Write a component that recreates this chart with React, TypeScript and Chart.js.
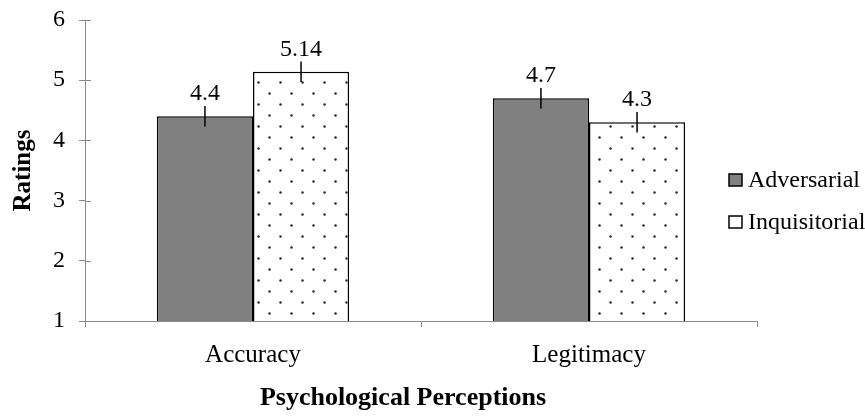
import React, { useEffect, useRef } from "react";
import { Chart, registerables } from "chart.js";

Chart.register(...registerables);

const categories = ["Accuracy", "Legitimacy"];
const seriesNames = ["Adversarial", "Inquisitorial"];
const adversarialValues = [4.4, 4.7];
const inquisitorialValues = [5.14, 4.3];
const adversarialErrors = [0.17, 0.17];
const inquisitorialErrors = [0.17, 0.17];
const valueLabels = [["4.4", "4.7"], ["5.14", "4.3"]];
const yMin = 1;
const yMax = 6;
const yStep = 1;
const xAxisTitle = "Psychological Perceptions";
const yAxisTitle = "Ratings";

const FONT = "'Liberation Serif', 'Times New Roman', serif";
const AXIS_GRAY = "#8a8a8a";

function makeDotPattern(ctx: CanvasRenderingContext2D): CanvasPattern | string {
  const c = document.createElement("canvas");
  c.width = 22;
  c.height = 22;
  const g = c.getContext("2d");
  if (!g) return "#ffffff";
  g.fillStyle = "#ffffff";
  g.fillRect(0, 0, 22, 22);
  g.fillStyle = "#2a2a2a";
  const dots = [
    [5.5, 5.5],
    [16.5, 16.5],
  ];
  for (const [x, y] of dots) {
    g.beginPath();
    g.arc(x, y, 1.25, 0, Math.PI * 2);
    g.fill();
  }
  return ctx.createPattern(c, "repeat") || "#ffffff";
}

const errorsBySeries = [adversarialErrors, inquisitorialErrors];

const errorBarPlugin = {
  id: "errorBarsAndLabels",
  afterDatasetsDraw(chart: any) {
    const { ctx } = chart;
    const yScale = chart.scales.y;
    ctx.save();
    chart.data.datasets.forEach((ds: any, di: number) => {
      const meta = chart.getDatasetMeta(di);
      meta.data.forEach((bar: any, i: number) => {
        const v = ds.data[i] as number;
        const e = errorsBySeries[di][i];
        const x = bar.x;
        const yTop = yScale.getPixelForValue(v + e);
        const yBot = yScale.getPixelForValue(v - e);
        ctx.strokeStyle = "#000";
        ctx.lineWidth = 1.5;
        ctx.beginPath();
        ctx.moveTo(x, yTop);
        ctx.lineTo(x, yBot);
        ctx.stroke();
        ctx.fillStyle = "#000";
        ctx.font = `24px ${FONT}`;
        ctx.textAlign = "center";
        ctx.textBaseline = "alphabetic";
        ctx.fillText(valueLabels[di][i], x, yTop - 6);
      });
    });
    ctx.restore();
  },
};

const decorPlugin = {
  id: "decor",
  afterDraw(chart: any) {
    const { ctx, chartArea } = chart;
    const yScale = chart.scales.y;
    ctx.save();
    // inner half of the cross tick marks on the value axis
    ctx.strokeStyle = AXIS_GRAY;
    ctx.lineWidth = 1;
    yScale.ticks.forEach((t: any) => {
      const py = Math.round(yScale.getPixelForValue(t.value)) + 0.5;
      ctx.beginPath();
      ctx.moveTo(chartArea.left, py);
      ctx.lineTo(chartArea.left + 6, py);
      ctx.stroke();
    });
    // x axis title
    ctx.fillStyle = "#000";
    ctx.font = `bold 26px ${FONT}`;
    ctx.textAlign = "center";
    ctx.textBaseline = "middle";
    ctx.fillText(xAxisTitle, (chartArea.left + chartArea.right) / 2 - 18, 398);
    // legend
    const lx = chartArea.right - 28;
    const rows = [180, 222];
    chart.data.datasets.forEach((ds: any, di: number) => {
      const cy = rows[di];
      ctx.fillStyle = di === 0 ? ds.backgroundColor : "#ffffff";
      ctx.fillRect(lx, cy - 6, 13, 12);
      ctx.strokeStyle = "#000";
      ctx.lineWidth = 1.5;
      ctx.strokeRect(lx, cy - 6, 13, 12);
      ctx.fillStyle = "#000";
      ctx.font = `24px ${FONT}`;
      ctx.textAlign = "left";
      ctx.textBaseline = "middle";
      ctx.fillText(ds.label, lx + 19, cy + 1);
    });
    ctx.restore();
  },
};

export default function App() {
  const canvasRef = useRef<HTMLCanvasElement | null>(null);

  useEffect(() => {
    document.body.style.margin = "0";
    const canvas = canvasRef.current;
    if (!canvas) return;
    const ctx = canvas.getContext("2d");
    if (!ctx) return;
    const pattern = makeDotPattern(ctx);

    const chart = new Chart(ctx, {
      type: "bar",
      data: {
        labels: categories,
        datasets: [
          {
            label: seriesNames[0],
            data: adversarialValues,
            backgroundColor: "#808080",
            borderColor: "#000000",
            borderWidth: 1.5,
            categoryPercentage: 0.572,
            barPercentage: 1,
          },
          {
            label: seriesNames[1],
            data: inquisitorialValues,
            backgroundColor: pattern as any,
            borderColor: "#000000",
            borderWidth: 1.5,
            categoryPercentage: 0.572,
            barPercentage: 1,
          },
        ],
      },
      options: {
        animation: false,
        responsive: true,
        maintainAspectRatio: false,
        layout: { padding: { top: 20, right: 108, bottom: 34, left: 0 } },
        plugins: {
          legend: { display: false },
          tooltip: { enabled: false },
          title: { display: false },
        },
        scales: {
          x: {
            offset: true,
            grid: {
              display: true,
              offset: true,
              drawOnChartArea: false,
              drawTicks: true,
              tickLength: 6,
              color: AXIS_GRAY,
            },
            border: { display: true, color: AXIS_GRAY, width: 1 },
            ticks: {
              color: "#000",
              font: { family: FONT, size: 25 },
              padding: 13,
              maxRotation: 0,
            },
          },
          y: {
            min: yMin,
            max: yMax,
            afterFit: (scale: any) => {
              scale.paddingTop = 0;
              scale.paddingBottom = 0;
            },
            grid: {
              display: true,
              drawOnChartArea: false,
              drawTicks: true,
              tickLength: 6,
              color: AXIS_GRAY,
            },
            border: { display: true, color: AXIS_GRAY, width: 1 },
            ticks: {
              stepSize: yStep,
              color: "#000",
              font: { family: FONT, size: 24 },
              padding: 14,
            },
            title: {
              display: true,
              text: yAxisTitle,
              color: "#000",
              font: { family: FONT, size: 25, weight: "bold" },
              padding: { top: 9, bottom: 0 },
            },
          },
        },
      },
      plugins: [errorBarPlugin, decorPlugin],
    });

    return () => {
      chart.destroy();
    };
  }, []);

  return (
    <div style={{ position: "relative", width: "865px", height: "417px" }}>
      <canvas ref={canvasRef} />
    </div>
  );
}
